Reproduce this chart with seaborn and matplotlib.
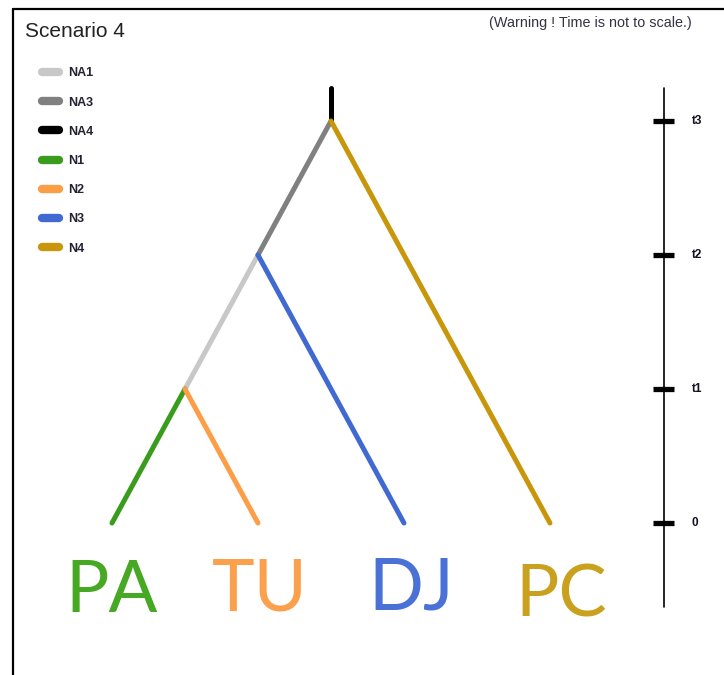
import pandas as pd
import seaborn as sns
import matplotlib.pyplot as plt
from matplotlib.lines import Line2D

# tree nodes: x = horizontal slot, t = time level (0, t1, t2, t3)
node_names = ["PA", "TU", "DJ", "PC", "a1", "a3", "a4", "top"]
node_x = [0, 1, 2, 3, 0.5, 1.0, 1.5, 1.5]
node_t = [0, 0, 0, 0, 1, 2, 3, 3.25]

branch_names = ["NA1", "NA3", "NA4", "N1", "N2", "N3", "N4"]
branch_child = ["a1", "a3", "a4", "PA", "TU", "DJ", "PC"]
branch_parent = ["a3", "a4", "top", "a1", "a1", "a3", "a4"]
branch_colors = ["#c8c8c8", "#808080", "#000000", "#3a9c1c", "#fd9d46", "#4169d2", "#c7960a"]

leaf_names = ["PA", "TU", "DJ", "PC"]
leaf_colors = ["#47a823", "#fba14d", "#4a72d6", "#c9a11f"]

time_ticks = [0, 1, 2, 3]
time_labels = ["0", "t1", "t2", "t3"]

pos = {n: (x, t) for n, x, t in zip(node_names, node_x, node_t)}
rows = []
for b, c, p in zip(branch_names, branch_child, branch_parent):
    for n in (c, p):
        rows.append({"branch": b, "x": pos[n][0], "t": pos[n][1]})
df = pd.DataFrame(rows)

sns.set_style("white")
fig = plt.figure(figsize=(7.24, 6.75), dpi=100)
ax = fig.add_axes([0, 0, 1, 1])

sns.lineplot(data=df, x="x", y="t", hue="branch", hue_order=branch_names,
             palette=dict(zip(branch_names, branch_colors)), units="branch",
             estimator=None, sort=False, linewidth=3.6, solid_capstyle="round", ax=ax)

ax.set_xlim(-0.767, 4.192)
ax.set_ylim(-1.134, 3.903)
ax.axis("off")

# legend
leg = ax.legend(loc="upper left", bbox_to_anchor=(31 / 724, 1 - 56 / 675), frameon=False,
                handlelength=1.35, handletextpad=0.75, labelspacing=1.38,
                prop={"family": "Liberation Sans", "weight": "bold", "size": 9})
for line in leg.get_lines():
    line.set_linewidth(6)
    line.set_solid_capstyle("round")
for txt in leg.get_texts():
    txt.set_color("#222233")

# time axis
axis_x = 3.78
ax.plot([axis_x, axis_x], [-0.627, 3.246], color="black", lw=1.2)
for tt, lab in zip(time_ticks, time_labels):
    ax.plot([axis_x - 0.072, axis_x + 0.072], [tt, tt], color="black", lw=3.8, solid_capstyle="butt")
    ax.text(3.97, tt, lab, ha="left", va="center", fontsize=8.5, fontweight="bold",
            family="Liberation Sans", color="#111122")

# leaf labels
label_dx = [0, 0.01, 0.05, 0.08]
label_dy = [0, 0.01, 0.02, -0.03]
for i, (name, col) in enumerate(zip(leaf_names, leaf_colors)):
    ax.text(i + label_dx[i], -0.665 + label_dy[i], name, ha="center", va="baseline",
            fontsize=52, family="Lato", color=col)

fig.text(25 / 724, 1 - 37 / 675, "Scenario 4", fontsize=15, family="Liberation Sans",
         color="#222222", va="baseline")
fig.text(489 / 724, 1 - 27 / 675, "(Warning ! Time is not to scale.)", fontsize=10.4,
         family="Liberation Sans", color="#333344", va="baseline")

# frame
fig.add_artist(Line2D([13 / 724, 13 / 724], [0, 1 - 9 / 675], color="black", lw=1.6))
fig.add_artist(Line2D([13 / 724, 1], [1 - 9 / 675, 1 - 9 / 675], color="black", lw=1.6))

fig.savefig("out.png", dpi=100)
